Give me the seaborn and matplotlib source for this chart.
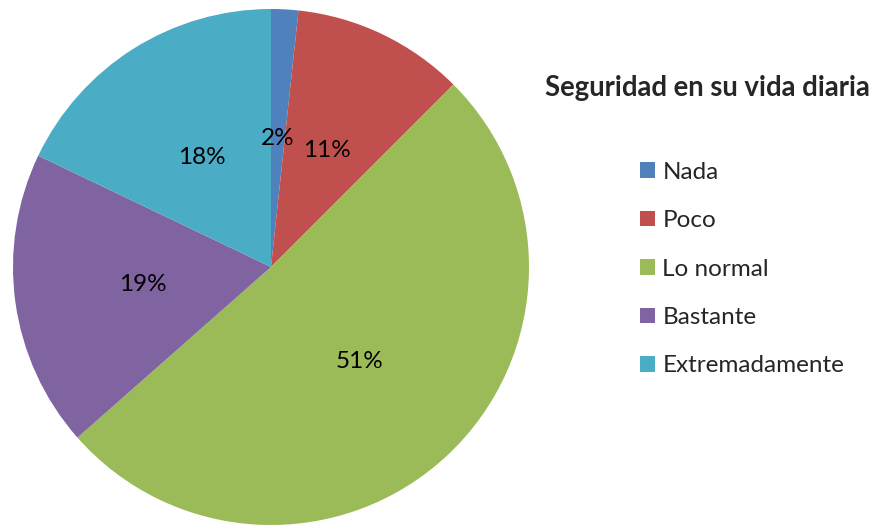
import matplotlib
matplotlib.use("Agg")
import matplotlib.pyplot as plt
import seaborn as sns

# categorias y porcentajes
categorias = ["Nada", "Poco", "Lo normal", "Bastante", "Extremadamente"]
valores = [1.7, 10.8, 51.0, 18.6, 17.9]
colores = ["#4F81BD", "#C0504D", "#9BBB59", "#8064A2", "#4BACC6"]
titulo = "Seguridad en su vida diaria"

sns.set_theme(style="white")
plt.rcParams["font.family"] = ["Lato", "DejaVu Sans"]

W, H = 875, 525
fig = plt.figure(figsize=(W / 100, H / 100), dpi=100)

# pie: centre ~(271, 267) px, radius ~258 px
cx, cy, r = 271, 267, 258
ax = fig.add_axes([(cx - r) / W, (H - cy - r) / H, 2 * r / W, 2 * r / H])
wedges, textos, pcts = ax.pie(
    valores,
    colors=sns.color_palette(colores),
    startangle=90,
    counterclock=False,
    autopct="%.0f%%",
    pctdistance=0.5,
    wedgeprops=dict(linewidth=0),
    textprops=dict(fontsize=17.5, color="black"),
)
ax.set_xlim(-1, 1)
ax.set_ylim(-1, 1)
ax.set_aspect("equal")
ax.axis("off")

##titulo de la leyenda
fig.text(545 / W, 1 - 88 / H, titulo, fontsize=19.8, fontweight="bold",
         ha="left", va="center")

fig.legend(
    wedges, categorias,
    loc="center left",
    bbox_to_anchor=(640 / W, 1 - 269 / H),
    frameon=False,
    fontsize=17.5,
    handlelength=0.62,
    handleheight=0.62,
    handletextpad=0.3,
    labelspacing=1.13,
    borderpad=0,
    borderaxespad=0,
)

fig.savefig("out.png", dpi=100)
